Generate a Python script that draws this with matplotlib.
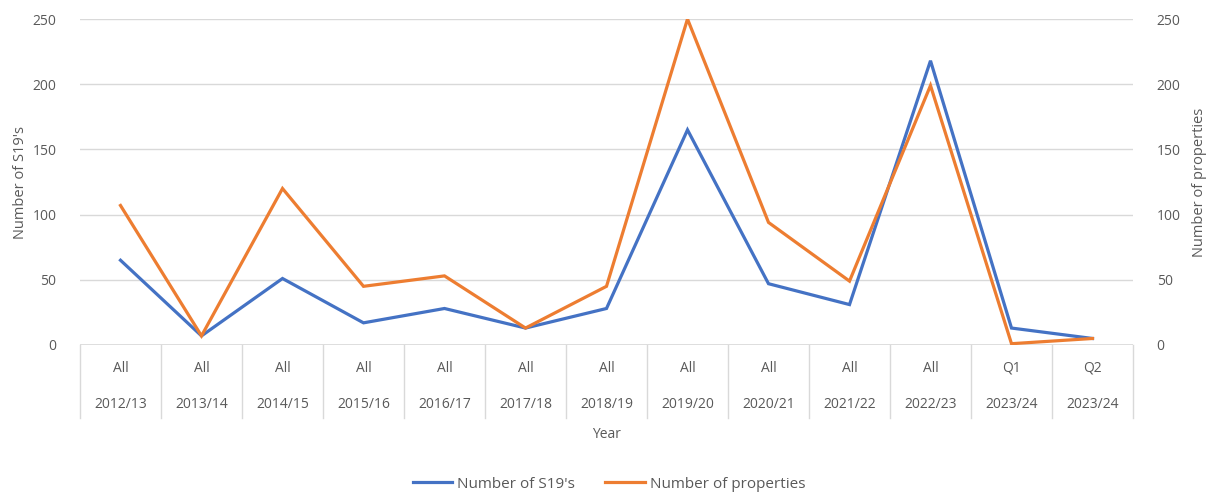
import matplotlib
matplotlib.use("Agg")
import matplotlib.pyplot as plt
from matplotlib.lines import Line2D
import matplotlib.transforms as mtransforms

periods = ["All"] * 11 + ["Q1", "Q2"]
years = ["2012/13", "2013/14", "2014/15", "2015/16", "2016/17", "2017/18",
         "2018/19", "2019/20", "2020/21", "2021/22", "2022/23", "2023/24", "2023/24"]
s19 = [65, 7, 51, 17, 28, 13, 28, 165, 47, 31, 218, 13, 5]
properties = [107, 7, 120, 45, 53, 13, 45, 250, 94, 49, 199, 1, 5]

plt.rcParams['font.family'] = ['Open Sans', 'DejaVu Sans']
TXT = '#595959'
GRID = '#d9d9d9'
BLUE = '#4472C4'
ORANGE = '#ED7D31'
FS = 10

W, H = 1213, 494
fig = plt.figure(figsize=(W / 100, H / 100), dpi=100)
left, right, top, bottom = 80, 1133, 19, 345
ax = fig.add_axes([left / W, 1 - bottom / H, (right - left) / W, (bottom - top) / H])
ax2 = ax.twinx()

x = list(range(len(years)))
ax.plot(x, s19, color=BLUE, lw=2.3, solid_joinstyle='miter', zorder=3)
ax2.plot(x, properties, color=ORANGE, lw=2.3, solid_joinstyle='miter', zorder=3)

for a in (ax, ax2):
    a.set_ylim(0, 250)
    a.set_yticks(range(0, 251, 50))
    a.set_xlim(-0.5, len(years) - 0.5)
    for s in a.spines.values():
        s.set_visible(False)
    a.tick_params(axis='y', length=0, labelsize=FS, labelcolor=TXT, pad=17)
    a.tick_params(axis='x', length=0, labelbottom=False)
    a.set_xticks([])

ax.yaxis.grid(True, color=GRID, lw=1)
ax.set_axisbelow(True)
ax.axhline(0, color=GRID, lw=1.2, zorder=1)

ax.set_ylabel("Number of S19's", color=TXT, fontsize=10.5, labelpad=3)
ax2.set_ylabel("Number of properties", color=TXT, fontsize=10.5, labelpad=8)

# category table under the axis
trans = mtransforms.blended_transform_factory(ax.transData, ax.transAxes)
h = bottom - top
y_end = -(418 - bottom) / h
for k in range(len(years) + 1):
    ax.plot([k - 0.5, k - 0.5], [0, y_end], color=GRID, lw=1, transform=trans, clip_on=False)
for i, (p, yr) in enumerate(zip(periods, years)):
    ax.text(i, -(368 - bottom) / h, p, transform=trans, ha='center', va='center',
            color=TXT, fontsize=FS)
    ax.text(i, -(404 - bottom) / h, yr, transform=trans, ha='center', va='center',
            color=TXT, fontsize=FS)
ax.text((len(years) - 1) / 2, -(435 - bottom) / h, "Year", transform=trans,
        ha='center', va='center', color=TXT, fontsize=FS)

handles = [Line2D([], [], color=BLUE, lw=2.3), Line2D([], [], color=ORANGE, lw=2.3)]
leg = fig.legend(handles, ["Number of S19's", "Number of properties"], loc='center',
                 bbox_to_anchor=(609 / W, 1 - 484 / H), ncol=2, frameon=False,
                 fontsize=11, handlelength=2.6, handletextpad=0.3, columnspacing=2.0)
for t in leg.get_texts():
    t.set_color(TXT)

fig.savefig("out.png", dpi=100, facecolor='white')
